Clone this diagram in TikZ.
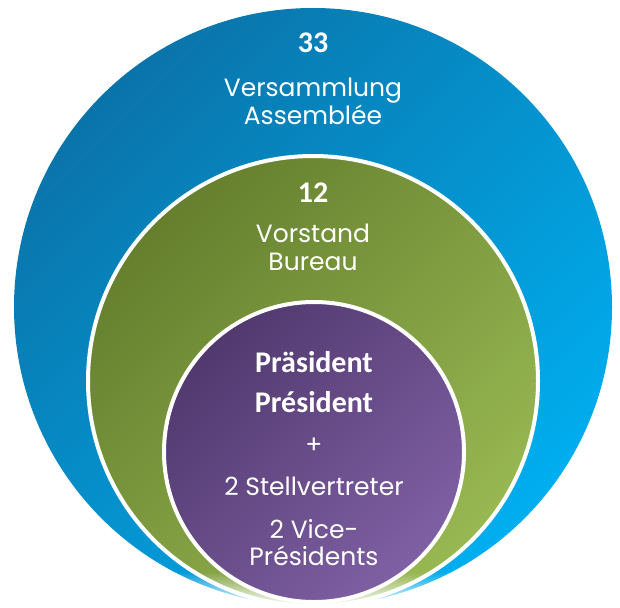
\documentclass[tikz,border=0pt]{standalone}
\usepackage{fontspec}
\setmainfont{Poppins}
\newfontfamily\boldfont{Carlito}
\usetikzlibrary{fadings}

\definecolor{blueA}{HTML}{0A74AA}
\definecolor{blueB}{HTML}{00AEEF}
\definecolor{greenA}{HTML}{657F2E}
\definecolor{greenB}{HTML}{98B852}
\definecolor{purpleA}{HTML}{51396E}
\definecolor{purpleB}{HTML}{7F60A4}
\tikzfading[name=fadedown, top color=transparent!100, bottom color=transparent!0]

\tikzset{
  numtext/.style={font=\boldfont\bfseries\fontsize{30}{30}\selectfont, text=white, anchor=base},
  lbltext/.style={font=\fontsize{25}{28}\selectfont, text=white, anchor=base},
  ring/.style={draw=white, line width=4pt}
}

\begin{document}
\begin{tikzpicture}[x=1pt, y=-1pt]
  \useasboundingbox (0,0) rectangle (620,607);
  \coordinate (CB) at (313,307); %外円の中心
  \coordinate (CG) at (313,381); %中円の中心
  \coordinate (CP) at (314,452); %内円の中心
  \shade[top color=blueA, bottom color=blueB, shading angle=45] (CB) circle[radius=299pt]; %外円
  \shadedraw[ring, top color=greenA, bottom color=greenB, shading angle=45] (CG) circle[radius=225pt]; %中円
  \fill[white, path fading=fadedown] (0,572) rectangle (620,607); %下端のぼかし
  \shadedraw[ring, top color=purpleA, bottom color=purpleB, shading angle=45] (CP) circle[radius=150pt]; %内円
  % 外円の文字
  \node[numtext] (n33) at (313,53) {33};
  \node[lbltext] (vers) at (313,96) {Versammlung};
  \node[lbltext] (assem) at (313,124) {Assemblée};
  % 中円の文字
  \node[numtext] (n12) at (313,202) {12};
  \node[lbltext] (vorst) at (313,242) {Vorstand};
  \node[lbltext] (bur) at (313,270) {Bureau};
  % 内円の文字
  \node[numtext] (praes) at (314,372) {Präsident};
  \node[numtext] (pres) at (314,412) {Président};
  \node[lbltext] (plus) at (314,453) {+};
  \node[lbltext] (stell) at (314,495) {2 Stellvertreter};
  \node[lbltext] (vice) at (314,538) {2 Vice-};
  \node[lbltext] (vicep) at (314,565) {Présidents};
\end{tikzpicture}
\end{document}
